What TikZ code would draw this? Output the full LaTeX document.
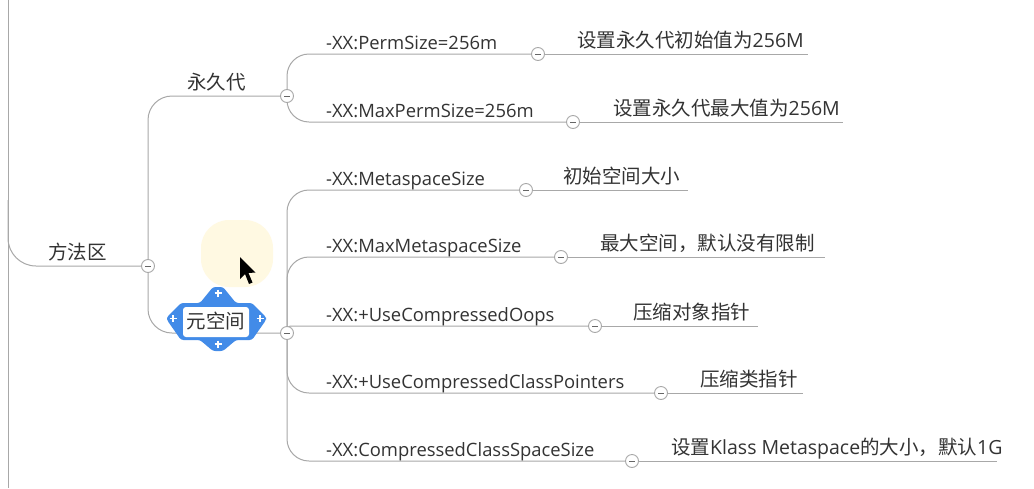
\documentclass[tikz,border=0pt]{standalone}
\usepackage{fontspec}
\setmainfont{Open Sans}
\newfontfamily\cjk{Noto Sans CJK SC}
\usetikzlibrary{backgrounds}
\definecolor{ln}{RGB}{168,168,168}
\definecolor{tx}{RGB}{51,51,51}
\definecolor{sel}{RGB}{66,139,232}
\definecolor{glow}{RGB}{255,249,226}
\begin{document}
\begin{tikzpicture}[x=1pt,y=-1pt,
  conn/.style={draw=ln, line width=1pt},
  tog/.style={circle, draw=ln, fill=white, line width=0.9pt, minimum size=13pt, inner sep=0pt,
    path picture={\draw[line width=1pt, draw=black!60] ([xshift=3.5pt]path picture bounding box.west) -- ([xshift=-3.5pt]path picture bounding box.east);}},
  lbl/.style={anchor=base west, inner sep=0pt, text=tx, font=\fontsize{18.4}{22}\selectfont},
  cj/.style={anchor=base west, inner sep=0pt, text=tx, font=\fontsize{19.5}{23}\selectfont\cjk},
  plus/.style={draw=white, line width=1.6pt},
]
\useasboundingbox (0,0) rectangle (1034,488);

% root coordinates
\coordinate (rt) at (8,0);
\coordinate (rb) at (8,488);
\coordinate (rk) at (8,200);

% toggles
\node[tog] (c0) at (148,266) {};
\node[tog] (c1) at (287,96) {};
\node[tog] (c2) at (287,333) {};
\node[tog] (c11) at (538,54) {};
\node[tog] (c12) at (573,122) {};
\node[tog] (c21) at (526,190) {};
\node[tog] (c22) at (561,257) {};
\node[tog] (c23) at (595,326) {};
\node[tog] (c24) at (661,393) {};
\node[tog] (c25) at (632,461) {};

% leaf line ends
\coordinate (e11) at (808,54);
\coordinate (e12) at (843,122);
\coordinate (e21) at (688,190);
\coordinate (e22) at (825,257);
\coordinate (e23) at (758,326);
\coordinate (e24) at (803,393);
\coordinate (e25) at (997,461);

% selected node frame
\fill[sel, rounded corners=2.5pt] (181,303) -- (200,303) -- (213,287) -- (223,287) -- (236,303) -- (252,303)
  -- (266,317) -- (266,320) -- (252,340) -- (236,340) -- (223,351) -- (213,351) -- (200,340) -- (181,340)
  -- (167,320) -- (167,317) -- cycle;
\fill[white, rounded corners=3pt] (183,307) rectangle (249,337);
\draw[plus] (214.5,293) -- (221.5,293) (218,289.5) -- (218,296.5);
\draw[plus] (214.5,344) -- (221.5,344) (218,340.5) -- (218,347.5);
\draw[plus] (169.5,318.5) -- (176.5,318.5) (173,315) -- (173,322);
\draw[plus] (256.5,318.5) -- (263.5,318.5) (260,315) -- (260,322);

% topics
\node[cj] (root) at (48,259) {方法区};
\node[cj] (perm) at (187,89) {永久代};
\node[cj, anchor=base] (meta) at (216,328) {元空间};

% options
\node[lbl] (l11) at (326,49) {-XX:PermSize=256m};
\node[lbl] (l12) at (326,117) {-XX:MaxPermSize=256m};
\node[lbl] (l21) at (326,185) {-XX:MetaspaceSize};
\node[lbl] (l22) at (326,252) {-XX:MaxMetaspaceSize};
\node[lbl] (l23) at (326,321) {-XX:+UseCompressedOops};
\node[lbl] (l24) at (326,388) {-XX:+UseCompressedClassPointers};
\node[lbl] (l25) at (326,456) {-XX:CompressedClassSpaceSize};

% descriptions
\node[cj] (d11) at (577,47.5) {设置永久代初始值为{\fontspec{Open Sans}256M}};
\node[cj] (d12) at (613,115.5) {设置永久代最大值为{\fontspec{Open Sans}256M}};
\node[cj] (d21) at (563,183.5) {初始空间大小};
\node[cj] (d22) at (600,250.5) {最大空间，默认没有限制};
\node[cj] (d23) at (633,319.5) {压缩对象指针};
\node[cj] (d24) at (700,386.5) {压缩类指针};
\node[cj] (d25) at (671,454.5) {设置{\fontspec{Open Sans}Klass Metaspace}的大小，默认{\fontspec{Open Sans}1G}};

\begin{scope}[on background layer]
\fill[white] (0,0) rectangle (1034,488);
\fill[glow] (201,220) [rounded corners=28pt] rectangle (273,287);
\draw[conn] (rt) -- (rb);
\draw[conn, rounded corners=28pt] (rk) |- (c0.center);
\draw[conn, rounded corners=24pt] (c0.center) |- (c1.center);
\draw[conn, rounded corners=24pt] (c0.center) |- (c2.center);
\draw[conn, rounded corners=22pt] (c1.center) |- (c11.center);
\draw[conn, rounded corners=22pt] (c1.center) |- (c12.center);
\draw[conn, rounded corners=22pt] (c2.center) |- (c21.center);
\draw[conn, rounded corners=22pt] (c2.center) |- (c22.center);
\draw[conn, rounded corners=3.5pt] (c2.center) |- (c23.center);
\draw[conn, rounded corners=22pt] (c2.center) |- (c24.center);
\draw[conn, rounded corners=22pt] (c2.center) |- (c25.center);
\draw[conn] (c11.center) -- (e11);
\draw[conn] (c12.center) -- (e12);
\draw[conn] (c21.center) -- (e21);
\draw[conn] (c22.center) -- (e22);
\draw[conn] (c23.center) -- (e23);
\draw[conn] (c24.center) -- (e24);
\draw[conn] (c25.center) -- (e25);
\end{scope}

% cursor
\fill[black] (240,257) -- (240,279) -- (245,274) -- (249,284) -- (252.5,282.5) -- (248.5,273) -- (255.5,272.5) -- cycle;
\end{tikzpicture}
\end{document}
